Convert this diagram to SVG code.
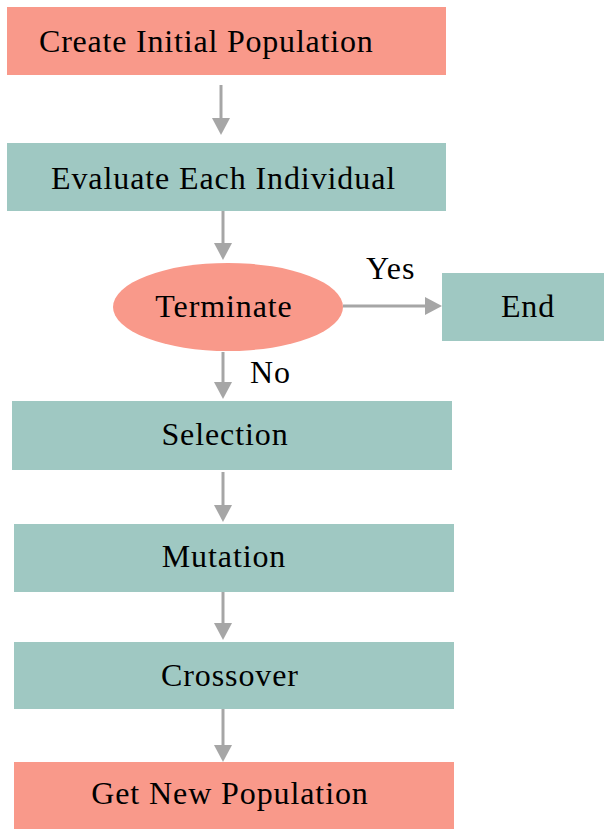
<svg xmlns="http://www.w3.org/2000/svg" width="604" height="829" viewBox="0 0 604 829">
<rect width="604" height="829" fill="#fff"/>
<g id="n1"><rect fill="#F9998A" x="7" y="7" width="439" height="68"/><text font-family="Liberation Serif" font-size="32" letter-spacing="0.8" x="39" y="52">Create Initial Population</text></g>
<g id="n2"><rect fill="#9FC8C2" x="7" y="143" width="439" height="68"/><text font-family="Liberation Serif" font-size="32" letter-spacing="0.9" x="51" y="189">Evaluate Each Individual</text></g>
<g id="n3"><ellipse fill="#F9998A" cx="228" cy="307" rx="115" ry="44"/><text font-family="Liberation Serif" font-size="32" letter-spacing="0.9" x="224" y="317" text-anchor="middle">Terminate</text></g>
<g id="n4"><rect fill="#9FC8C2" x="442" y="273" width="162" height="68"/><text font-family="Liberation Serif" font-size="32" letter-spacing="0.9" x="528" y="317" text-anchor="middle">End</text></g>
<g id="n5"><rect fill="#9FC8C2" x="12" y="401" width="440" height="69"/><text font-family="Liberation Serif" font-size="32" letter-spacing="0.9" x="225" y="445" text-anchor="middle">Selection</text></g>
<g id="n6"><rect fill="#9FC8C2" x="14" y="524" width="440" height="68"/><text font-family="Liberation Serif" font-size="32" letter-spacing="0.9" x="224" y="567" text-anchor="middle">Mutation</text></g>
<g id="n7"><rect fill="#9FC8C2" x="14" y="642" width="440" height="67"/><text font-family="Liberation Serif" font-size="32" letter-spacing="0.9" x="230" y="686" text-anchor="middle">Crossover</text></g>
<g id="n8"><rect fill="#F9998A" x="14" y="762" width="440" height="67"/><text font-family="Liberation Serif" font-size="32" letter-spacing="0.9" x="230" y="804" text-anchor="middle">Get New Population</text></g>
<g id="connectors" stroke="#A6A6A6" stroke-width="3">
<line x1="221" y1="85" x2="221" y2="120"/><polygon fill="#A6A6A6" stroke="none" points="212,118 230,118 221,135"/>
<line x1="223" y1="211" x2="223" y2="245"/><polygon fill="#A6A6A6" stroke="none" points="214,243 232,243 223,260"/>
<line x1="343" y1="306" x2="428" y2="306"/><polygon fill="#A6A6A6" stroke="none" points="425,297 425,315 442,306"/>
<line x1="223" y1="352" x2="223" y2="384"/><polygon fill="#A6A6A6" stroke="none" points="214,382 232,382 223,399"/>
<line x1="223" y1="472" x2="223" y2="507"/><polygon fill="#A6A6A6" stroke="none" points="214,505 232,505 223,522"/>
<line x1="223" y1="592" x2="223" y2="625"/><polygon fill="#A6A6A6" stroke="none" points="214,623 232,623 223,640"/>
<line x1="223" y1="709" x2="223" y2="747"/><polygon fill="#A6A6A6" stroke="none" points="214,745 232,745 223,762"/>
</g>
<text font-family="Liberation Serif" font-size="32" letter-spacing="0.9" x="366" y="279">Yes</text>
<text font-family="Liberation Serif" font-size="32" letter-spacing="0.9" x="250" y="383">No</text>
</svg>
